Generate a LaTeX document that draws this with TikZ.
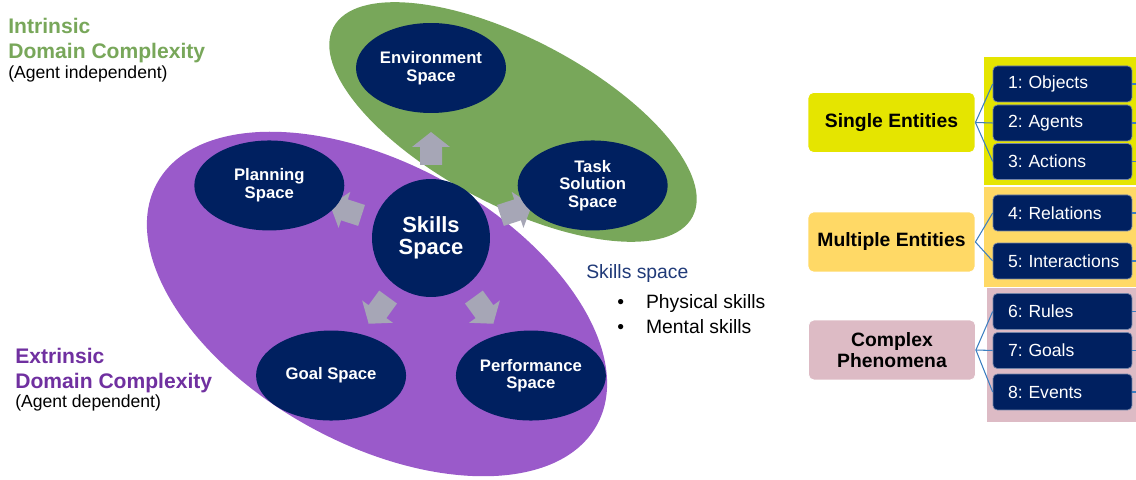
\documentclass[tikz,border=0pt]{standalone}
\usepackage{fontspec}
\setmainfont{Liberation Sans}
\usetikzlibrary{shapes.geometric}
\usetikzlibrary{positioning}

\definecolor{navy}{HTML}{002060}
\definecolor{intrgreen}{HTML}{78A75A}
\definecolor{extrfill}{HTML}{9A5ACA}
\definecolor{extrtext}{HTML}{7030A0}
\definecolor{arrowgray}{HTML}{A6A6B6}
\definecolor{skillblue}{HTML}{203A78}
\definecolor{singlefill}{HTML}{E5E500}
\definecolor{multifill}{HTML}{FFD966}
\definecolor{complexfill}{HTML}{DDBBC5}
\definecolor{linkblue}{HTML}{3C7EC0}

\tikzset{
  region/.style={ellipse, fill=navy, text=white, inner sep=0pt,
    minimum width=3cm, minimum height=1.8cm, align=center,
    font=\bfseries\fontsize{9.5}{10}\selectfont},
  hub/.style={circle, fill=navy, text=white, inner sep=0pt,
    minimum size=2.36cm, align=center,
    font=\bfseries\fontsize{12.5}{12.5}\selectfont},
  branch/.style={rectangle, rounded corners=3pt, draw=white, line width=0.5pt,
    minimum width=3.34cm, minimum height=1.2cm, align=center,
    font=\bfseries\fontsize{11}{11.5}\selectfont},
  leaf/.style={rectangle, rounded corners=2.5pt, fill=navy, draw=navy!55!white,
    line width=0.4pt, text=white, text width=2.4cm, inner xsep=0.19cm,
    inner ysep=0pt, minimum height=0.72cm, align=left,
    execute at begin node=\hspace*{0.11cm},
    font=\frenchspacing\fontsize{10}{12}\selectfont},
  link/.style={draw=linkblue, line width=0.6pt},
  title/.style={inner sep=0pt, align=left, font=\bfseries\fontsize{12}{14}\selectfont},
  note/.style={inner sep=0pt, font=\fontsize{10}{12}\selectfont},
}

\begin{document}
\begin{tikzpicture}[x=0.02cm, y=0.02cm]
  \useasboundingbox (0,0) rectangle (1136,480);

  % domain blobs
  \fill[extrfill, rotate around={-28.8:(377,176)}] (377,176) ellipse [x radius=251, y radius=140];
  \fill[intrgreen, rotate around={-27.8:(513,358)}] (513,358) ellipse [x radius=203, y radius=83];

  \node[hub] (skills) at (431,242) {Skills\\Space};

  % arrows out of the hub
  \foreach \a in {90,162,234,306,18}
    \fill[arrowgray, shift={(skills.center)}, rotate=\a]
      (73,-11) -- (91,-11) -- (91,-19) -- (106,0) -- (91,19) -- (91,11) -- (73,11) -- cycle;

  \node[region] (env) at ([shift={(90:170)}]skills) {Environment\\Space};
  \node[region] (task) at ([shift={(18:170)}]skills) {Task\\Solution\\Space};
  \node[region] (plan) at ([shift={(162:170)}]skills) {Planning\\Space};
  \node[region] (goal) at ([shift={(234:170)}]skills) {Goal Space};
  \node[region] (perf) at ([shift={(306:170)}]skills) {Performance\\Space};

  \node[title, text=intrgreen, anchor=north west] (intr) at (8,462) {Intrinsic\\Domain Complexity};
  \node[note, anchor=base west] (intrnote) at (8,401) {(Agent independent)};
  \node[title, text=extrtext, anchor=north west] (extr) at (15,132) {Extrinsic\\Domain Complexity};
  \node[note, anchor=base west] (extrnote) at (15,72) {(Agent dependent)};

  \node[inner sep=0pt, anchor=base west, text=skillblue, font=\fontsize{11}{14}\selectfont] (skilltitle) at (586,201) {Skills space};
  \node[inner sep=0pt, anchor=north west, align=left, font=\fontsize{11}{14.2}\selectfont] (skilllist) at (617,186)
    {•\hspace{12.5pt}Physical skills\\•\hspace{12.5pt}Mental skills};

  % entity panels
  \fill[singlefill] (984,295) rectangle (1136,423);
  \fill[multifill] (984,193) rectangle (1136,293);
  \fill[complexfill] (987,58) rectangle (1136,192);
  \coordinate (edge) at (1136,0);

  \node[branch, fill=singlefill] (single) at (891.5,357.5) {Single Entities};
  \node[branch, fill=multifill] (multi) at (891.5,238) {Multiple Entities};
  \node[branch, fill=complexfill] (complex) at (892,130) {Complex\\Phenomena};

  \node[leaf] (obj) at (1062.5,396) {1: Objects};
  \node[leaf] (agt) at (1062.5,357) {2: Agents};
  \node[leaf] (act) at (1062.5,318.5) {3: Actions};
  \node[leaf] (rel) at (1062.5,267) {4: Relations};
  \node[leaf] (inter) at (1062.5,219) {5: Interactions};
  \node[leaf] (rule) at (1062.5,168.5) {6: Rules};
  \node[leaf] (gls) at (1062.5,129.5) {7: Goals};
  \node[leaf] (evt) at (1062.5,88) {8: Events};

  \foreach \c in {obj,agt,act}
    \draw[link] (single.east) -- (\c.west);
  \foreach \c in {rel,inter}
    \draw[link] (multi.east) -- (\c.west);
  \foreach \c in {rule,gls,evt}
    \draw[link] (complex.east) -- (\c.west);
  \foreach \c in {obj,agt,act,rel,inter,rule,gls,evt}
    \draw[link] (\c.east) -- (\c.east -| edge);
\end{tikzpicture}
\end{document}
